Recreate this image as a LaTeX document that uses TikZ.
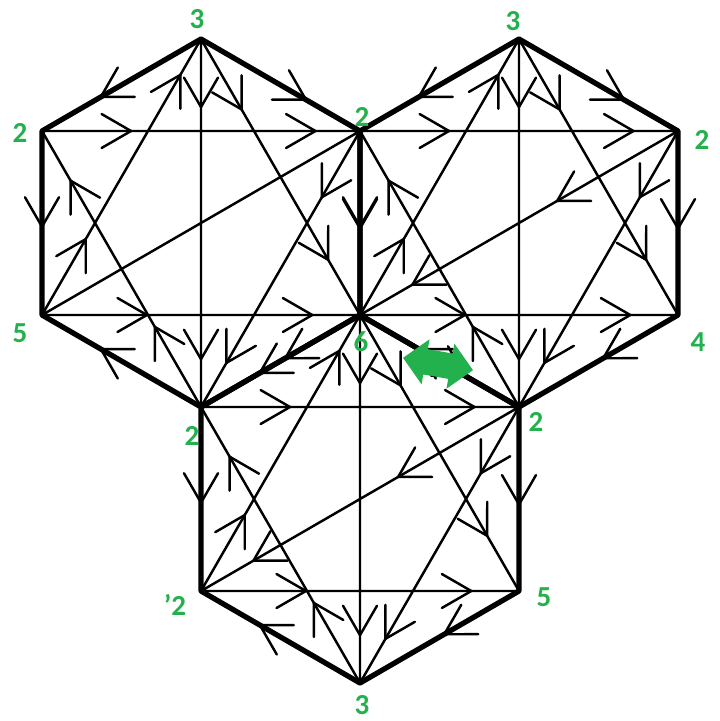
\documentclass[tikz,border=0pt]{standalone}
\usepackage{fontspec}
\setsansfont{Carlito}
\usetikzlibrary{calc,shapes.arrows}
\definecolor{paintgreen}{RGB}{34,177,76}
% open V head on an edge: tail, head, where the tip sits
\newcommand\flowtip[3]{%
  \coordinate (tip) at ($(#1)!#3!(#2)$);
  \draw[barb] ($(tip)!0.68cm!30:(#1)$) -- (tip) -- ($(tip)!0.68cm!-30:(#1)$);
}
\tikzset{
  side/.style={line width=3pt,line join=round},
  diag/.style={line width=1.4pt},
  barb/.style={line width=1.4pt,line cap=round},
  lbl/.style={text=paintgreen,font=\sffamily\bfseries\fontsize{16.5}{19}\selectfont},
  swap arrow/.style={double arrow,fill=paintgreen,minimum height=1.42cm,
    inner sep=0.25cm,double arrow head extend=0.2cm},
  % one hexagon with its diagonals and heads
  pics/hexa/.style={code={
    \coordinate (-T) at (0,-184); \coordinate (-UR) at (159,-92); \coordinate (-LR) at (159,92);
    \coordinate (-B) at (0,184); \coordinate (-LL) at (-159,92); \coordinate (-UL) at (-159,-92);
    \draw[diag] (-T) -- (-B) (-T) -- (-LL) (-T) -- (-LR) (-UL) -- (-UR) (-LL) -- (-LR)
      (-UL) -- (-B) (-UR) -- (-B) (-UR) -- (-LL);
    \draw[side] (-T) -- (-UR) -- (-LR) -- (-B) -- (-LL) -- (-UL) -- cycle;
    \foreach \a/\b/\t in {-T/-UL/0.63,-T/-UR/0.66,-UL/-LL/0.52,-UR/-LR/0.53,-B/-LL/0.63,-LR/-B/0.47,
      -LL/-T/0.87,-LL/-T/0.275,-T/-B/0.185,-T/-B/0.87,-T/-LR/0.255,-T/-LR/0.8,
      -UL/-UR/0.28,-UL/-UR/0.86,-LL/-LR/0.33,-LL/-LR/0.85,-B/-UL/0.82,-B/-UL/0.29,
      -UR/-B/0.24,-UR/-B/0.84}
      {\flowtip{\a}{\b}{\t}}
  }},
}

\begin{document}
\begin{tikzpicture}[x=0.02cm,y=-0.02cm]
  \path[fill=white,use as bounding box] (0,0) rectangle (720,721);
  \pic (L) at (201,223) {hexa};
  \pic (R) at (519,223) {hexa};
  \pic (D) at (360,499) {hexa};
  \foreach \h in {R,D} \foreach \t in {0.38,0.835} {\flowtip{\h-UR}{\h-LL}{\t}}
  \node[swap arrow,rotate=-10] (swap) at (438,364) {};
  % vertex numbers
  \node[lbl] (nL-T) at (197,19) {3};
  \node[lbl] (nL-UL) at (20,133) {2};
  \node[lbl] (nL-UR) at (362,117) {2};
  \node[lbl] (nR-T) at (513,21) {3};
  \node[lbl] (nR-UR) at (702,140) {2};
  \node[lbl] (nL-LL) at (20,333) {5};
  \node[lbl] (nC) at (361,342) {6};
  \node[lbl] (nR-LR) at (698,342) {4};
  \node[lbl] (nL-B) at (192,436) {2};
  \node[lbl] (nR-B) at (536,422) {2};
  \node[lbl] (nD-LL) at (175,605) {'2};
  \node[lbl] (nD-LR) at (544,597) {5};
  \node[lbl] (nD-B) at (362,705) {3};
\end{tikzpicture}
\end{document}
